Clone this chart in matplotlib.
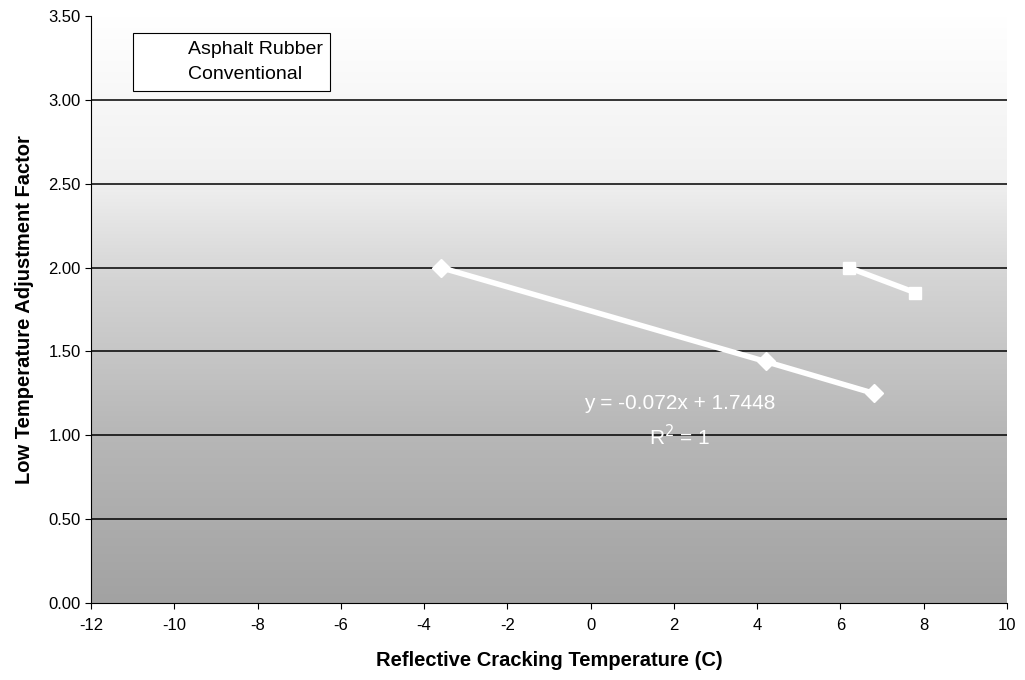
import numpy as np
import matplotlib.pyplot as plt
from matplotlib.colors import LinearSegmentedColormap

plt.rcParams['font.family'] = ['Liberation Sans', 'DejaVu Sans']
plt.rcParams['axes.unicode_minus'] = False

# data
conv_x = [-3.6, 4.2, 6.8]
conv_y = [2.00, 1.44, 1.25]
ar_x = [6.2, 7.8]
ar_y = [2.00, 1.85]
trend_x = [-3.6, 6.8]
x_ticks = list(range(-12, 11, 2))
y_ticks = [0.0, 0.5, 1.0, 1.5, 2.0, 2.5, 3.0, 3.5]

fig = plt.figure(figsize=(10.25, 6.8), dpi=100)
ax = fig.add_axes([91/1025, 1-603/680, 916/1025, 587/680])

# scanned-looking gray background, light at top, dark at bottom
cmap = LinearSegmentedColormap.from_list('bg', [(0, '#a2a2a2'), (0.3, '#b8b8b8'),
                                                 (0.55, '#d4d4d4'), (0.72, '#f0f0f0'),
                                                 (1, '#ffffff')])
grad = np.linspace(0, 1, 256).reshape(-1, 1)
ax.imshow(grad, aspect='auto', cmap=cmap, origin='lower',
          extent=[-12, 10, 0, 3.5], zorder=0)

for yv in y_ticks[1:-1]:
    ax.axhline(yv, color='black', lw=1.1, zorder=1)

trend_y = [-0.072 * v + 1.7448 for v in trend_x]
ax.plot(trend_x, trend_y, color='white', lw=2, zorder=2)
ax.plot(ar_x, ar_y, color='white', lw=4, marker='s', ms=9, zorder=3, label='Asphalt Rubber')
ax.plot(conv_x, conv_y, color='white', lw=4, marker='D', ms=9, zorder=3, label='Conventional')

ax.text(2.15, 1.19, 'y = -0.072x + 1.7448', color='white', fontsize=15,
        ha='center', va='center', zorder=4)
ax.text(2.15, 0.995, 'R$^2$ = 1', color='white', fontsize=15,
        ha='center', va='center', zorder=4)

ax.set_xlim(-12, 10)
ax.set_ylim(0, 3.5)
ax.set_xticks(x_ticks)
ax.set_yticks(y_ticks)
ax.set_yticklabels(['%.2f' % v for v in y_ticks])
ax.tick_params(labelsize=12, direction='out', length=4, width=0.8)
ax.tick_params(axis='x', pad=7)
ax.spines['top'].set_visible(False)
ax.spines['right'].set_visible(False)

ax.set_xlabel('Reflective Cracking Temperature (C)', fontsize=14.5, fontweight='bold', labelpad=13)
ax.set_ylabel('Low Temperature Adjustment Factor', fontsize=14.5, fontweight='bold', labelpad=10)

leg = ax.legend(loc='upper left', bbox_to_anchor=(0.046, 0.971), fontsize=14,
                frameon=True, fancybox=False, edgecolor='black', framealpha=1,
                handlelength=1.6, borderpad=0.4, labelspacing=0.35, borderaxespad=0)
leg.get_frame().set_linewidth(0.8)
leg.set_zorder(5)

fig.savefig('out.png', dpi=100)
